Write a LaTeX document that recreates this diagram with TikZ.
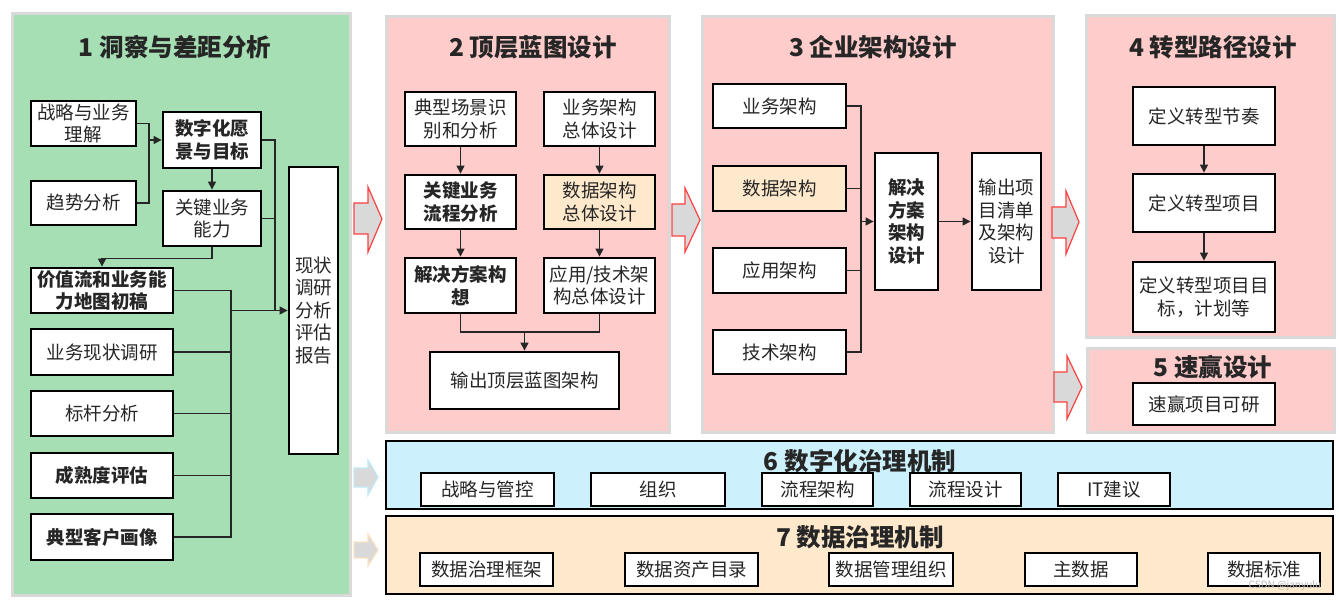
\documentclass[tikz,border=0pt]{standalone}
\usepackage{fontspec}
\setmainfont{Noto Sans CJK SC}
\usetikzlibrary{arrows.meta}
\definecolor{pgreen}{HTML}{A7DFB4}
\definecolor{ppink}{HTML}{FFCCCC}
\definecolor{pblue}{HTML}{CCF0FC}
\definecolor{porange}{HTML}{FFE9CC}
\definecolor{pgray}{HTML}{D9D9D9}
\definecolor{ttlc}{HTML}{262626}
\definecolor{arrblue}{HTML}{BFEAF8}
\definecolor{arrorange}{HTML}{FBE2C2}
\tikzset{
  panel/.style={draw=pgray, line width=3pt},
  band/.style={draw=black, line width=1.2pt},
  box/.style={draw=black, line width=2.8pt, fill=white, align=center, inner sep=0pt,
    text=ttlc, font=\fontsize{18.5}{22.5}\selectfont},
  bbox/.style={box, font=\fontsize{18.5}{22.5}\selectfont\bfseries},
  sz/.style 2 args={minimum width=#1pt, minimum height=#2pt},
  ttl/.style={text=ttlc, inner sep=0pt, font=\fontsize{24.5}{28}\selectfont\bfseries},
  conn/.style={draw=black!85, line width=1.2pt},
  arr/.style={conn, -{Triangle[length=8pt,width=8pt]}},
  blockarr/.style={fill=pgray, draw=red!75, line width=1.2pt, line join=miter},
}
\begin{document}
\begin{tikzpicture}[x=1pt,y=-1pt]
\useasboundingbox (0,0) rectangle (1339,601);
\fill[white] (0,0) rectangle (1339,601);

% ---------- panels ----------
\path[panel, fill=pgreen] (12,14) rectangle (350,595);
\path[panel, fill=ppink] (386,17) rectangle (669,433);
\path[panel, fill=ppink] (702,17) rectangle (1053,433);
\path[panel, fill=ppink] (1086,16) rectangle (1334,338);
\path[panel, fill=ppink] (1087,349) rectangle (1334,433);
\path[band, fill=pblue] (386,441) rectangle (1333,509);
\path[band, fill=porange] (386,516) rectangle (1333,594);

% ---------- block arrows ----------
\path[blockarr] (354,203) -- (368,203) -- (368,187) -- (382,219) -- (368,252) -- (368,234) -- (354,234) -- cycle;
\path[blockarr] (672,204) -- (685,204) -- (685,188) -- (700,220) -- (685,252) -- (685,236) -- (672,236) -- cycle;
\path[blockarr] (1052,207) -- (1066,207) -- (1066,191) -- (1079,222) -- (1066,254) -- (1066,238) -- (1052,238) -- cycle;
\path[blockarr] (1054,372) -- (1067,372) -- (1067,356) -- (1082,387) -- (1067,419) -- (1067,402) -- (1054,402) -- cycle;
\path[blockarr, draw=arrblue] (354,468) -- (368,468) -- (368,460) -- (378,477) -- (368,495) -- (368,487) -- (354,487) -- cycle;
\path[blockarr, draw=arrorange] (354,542) -- (368,542) -- (368,534) -- (378,550) -- (368,566) -- (368,558) -- (354,558) -- cycle;

% ---------- titles ----------
\node[ttl] (ti1) at (175,47) {1 洞察与差距分析};
\node[ttl] (ti2) at (533,47) {2 顶层蓝图设计};
\node[ttl] (ti3) at (873,47) {3 企业架构设计};
\node[ttl] (ti4) at (1213,47) {4 转型路径设计};
\node[ttl] (ti5) at (1213,367) {5 速赢设计};
\node[ttl] (ti6) at (860,461) {6 数字化治理机制};
\node[ttl] (ti7) at (860,537) {7 数据治理机制};

% ---------- panel 1 ----------
\node[box, sz={105}{45}] (s1) at (83.5,123.5) {战略与业务\\理解};
\node[box, sz={105}{44}] (s2) at (83.5,203) {趋势分析};
\node[bbox, sz={98}{56}] (s3) at (212,140) {数字化愿\\景与目标};
\node[box, sz={98}{55}] (s4) at (212,218.5) {关键业务\\能力};
\node[bbox, sz={142}{45}] (s5) at (102,290.5) {价值流和业务能\\力地图初稿};
\node[box, sz={142}{46}] (s6) at (102,352) {业务现状调研};
\node[box, sz={142}{45}] (s7) at (102,413.5) {标杆分析};
\node[bbox, sz={142}{45}] (s8) at (102,475.5) {成熟度评估};
\node[bbox, sz={142}{46}] (s9) at (102,537) {典型客户画像};
\node[box, sz={49}{287}] (rep) at (313.5,310.5) {现状\\调研\\分析\\评估\\报告};

\coordinate (j1) at (149,0);
\coordinate (j2) at (275,0);
\coordinate (j3) at (231,0);
\draw[conn] (s1.east) -| (j1 |- s2.east) -- (s2.east);
\draw[arr] (j1 |- s3.west) -- (s3.west);
\draw[arr] (s3) -- (s4);
\draw[arr] (s4.south) -- ++(0,11) -| (s5.north);
\draw[arr] (s3.east) -| (j2 |- rep.west) -- (rep.west);
\draw[conn] (s4.east) -- (j2 |- s4.east);
\draw[conn] (s5.east) -| (j3 |- s9.east) -- (s9.east);
\draw[conn] (s6.east) -- (j3 |- s6.east);
\draw[conn] (s7.east) -- (j3 |- s7.east);
\draw[conn] (s8.east) -- (j3 |- s8.east);
\draw[conn] (j3 |- rep.west) -- (j2 |- rep.west);

% ---------- panel 2 ----------
\node[box, sz={111}{54}] (t1) at (460.5,119) {典型场景识\\别和分析};
\node[box, sz={111}{54}] (t2) at (599.5,119) {业务架构\\总体设计};
\node[bbox, sz={111}{54}] (t3) at (460.5,202) {关键业务\\流程分析};
\node[box, sz={111}{54}, fill=porange] (t4) at (599.5,202) {数据架构\\总体设计};
\node[bbox, sz={111}{55}] (t5) at (460.5,285.5) {解决方案构\\想};
\node[box, sz={111}{55}] (t6) at (599.5,285.5) {应用/技术架\\构总体设计};
\node[box, sz={189}{57}] (t7) at (524.5,380.5) {输出顶层蓝图架构};
\draw[arr] (t1) -- (t3);
\draw[arr] (t3) -- (t5);
\draw[arr] (t2) -- (t4);
\draw[arr] (t4) -- (t6);
\coordinate (j5) at (0,332);
\draw[conn] (t5.south) -- (t5.south |- j5) -| (t6.south);
\draw[arr] (t7.north |- j5) -- (t7.north);

% ---------- panel 3 ----------
\node[box, sz={133}{44}] (u1) at (779.5,106) {业务架构};
\node[box, sz={133}{45}, fill=porange] (u2) at (779.5,188.5) {数据架构};
\node[box, sz={133}{45}] (u3) at (779.5,270.5) {应用架构};
\node[box, sz={133}{44}] (u4) at (779.5,352) {技术架构};
\node[bbox, sz={63}{137}] (u5) at (906.5,221.5) {解决\\方案\\架构\\设计};
\node[box, sz={69}{137}] (u6) at (1006.5,221.5) {输出项\\目清单\\及架构\\设计};
\coordinate (j4) at (861,0);
\draw[conn] (u1.east) -| (j4 |- u4.east) -- (u4.east);
\draw[conn] (u2.east) -- (j4 |- u2.east);
\draw[conn] (u3.east) -- (j4 |- u3.east);
\draw[arr] (j4 |- u5.west) -- (u5.west);
\draw[arr] (u5) -- (u6);

% ---------- panel 4 & 5 ----------
\node[box, sz={142}{58}] (v1) at (1204,116) {定义转型节奏};
\node[box, sz={142}{58}] (v2) at (1204,203) {定义转型项目};
\node[box, sz={142}{70}] (v3) at (1204,297) {定义转型项目目\\标，计划等};
\draw[arr] (v1) -- (v2);
\draw[arr] (v2) -- (v3);
\node[box, sz={142}{42}] (w1) at (1204,404) {速赢项目可研};

% ---------- band 6 ----------
\node[box, sz={133}{33}] (g1) at (487.5,489.5) {战略与管控};
\node[box, sz={134}{33}] (g2) at (658,489.5) {组织};
\node[box, sz={111}{33}] (g3) at (817.5,489.5) {流程架构};
\node[box, sz={111}{33}] (g4) at (965.5,489.5) {流程设计};
\node[box, sz={112}{33}] (g5) at (1114,489.5) {IT建议};

% ---------- band 7 ----------
\node[box, sz={133}{33}] (d1) at (486.5,569.5) {数据治理框架};
\node[box, sz={133}{33}] (d2) at (691.5,569.5) {数据资产目录};
\node[box, sz={124}{33}] (d3) at (891,569.5) {数据管理组织};
\node[box, sz={112}{33}] (d4) at (1081,569.5) {主数据};
\node[box, sz={112}{33}] (d5) at (1264,569.5) {数据标准};

\node[text=gray!55, inner sep=0pt, font=\fontsize{10}{12}\selectfont] (wm) at (1285,586) {CSDN @janyulu};
\end{tikzpicture}
\end{document}
